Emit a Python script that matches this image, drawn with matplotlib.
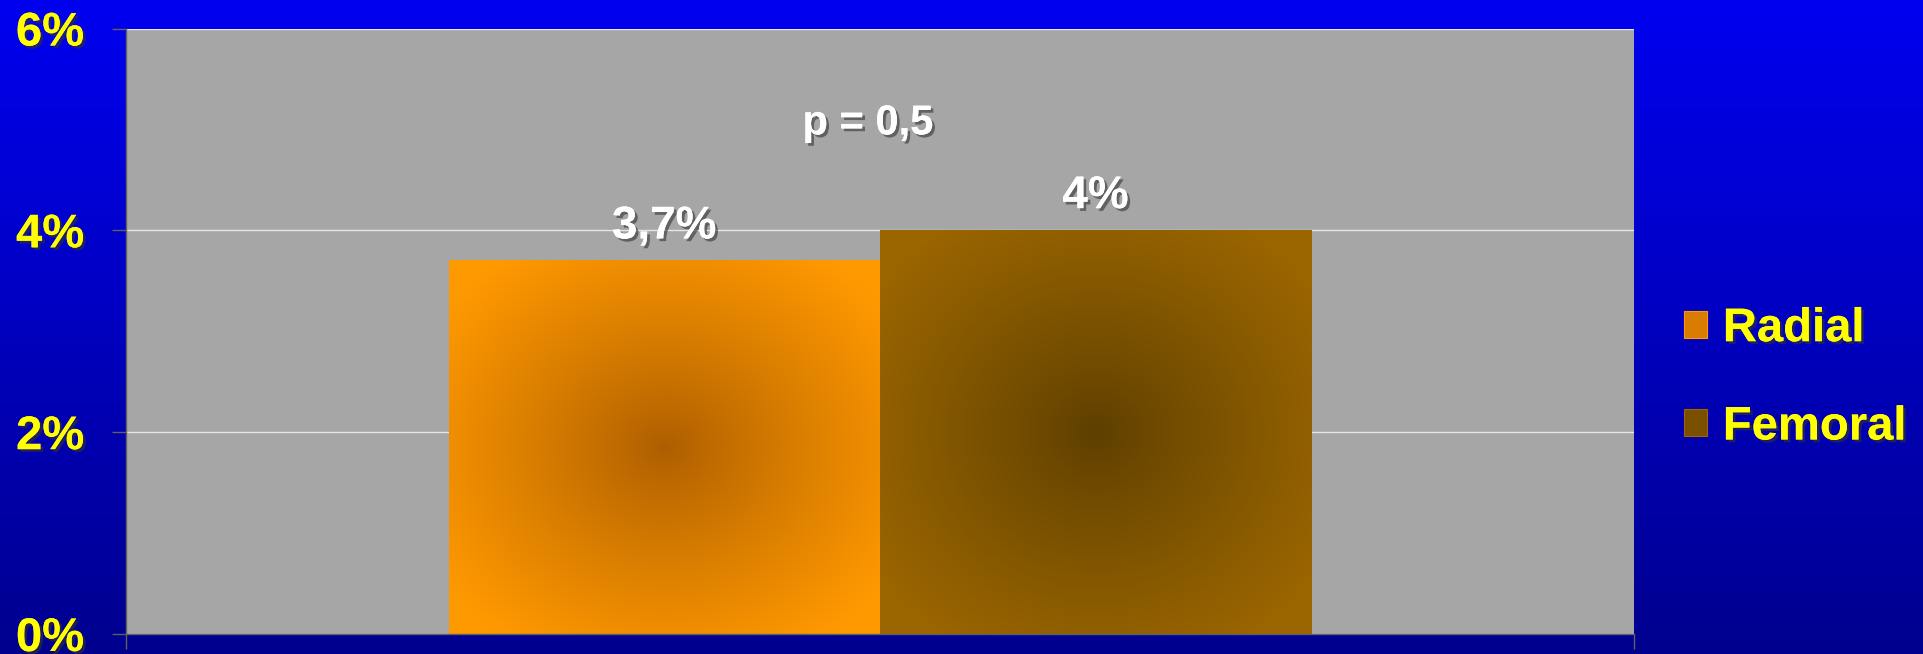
import numpy as np
import matplotlib.pyplot as plt
import matplotlib.patheffects as pe
from matplotlib.patches import Patch

# data
groups = ['Radial', 'Femoral']
rates = [3.7, 4.0]
value_labels = ['3,7%', '4%']
p_label = 'p = 0,5'
yticks = [0, 2, 4, 6]
ytick_labels = ['0%', '2%', '4%', '6%']

# edge / centre colours of each bar's radial fill
edge_colors = [(1.0, 0.60, 0.0), (0.61, 0.40, 0.0)]
center_colors = [(0.68, 0.37, 0.0), (0.37, 0.25, 0.0)]

plt.rcParams['font.family'] = ['Liberation Sans', 'DejaVu Sans']
plt.rcParams['font.weight'] = 'bold'

fig = plt.figure(figsize=(19.23, 6.54), dpi=100)

# blue gradient backdrop
bg = fig.add_axes([0, 0, 1, 1], zorder=-5)
grad = np.linspace(0, 1, 256)[:, None]
top = np.array([0.0, 0.0, 0.94])
bottom = np.array([0.0, 0.0, 0.56])
img = top + (bottom - top) * grad[..., None]
bg.imshow(np.repeat(img, 2, axis=1), aspect='auto', extent=[0, 1, 0, 1])
bg.axis('off')

ax = fig.add_axes([0.0655, 0.0306, 0.7842, 0.9258])
ax.set_facecolor('#a6a6a6')

width = 0.286
xpos = [-width / 2, width / 2]
bars = ax.bar(xpos, rates, width=width, color=edge_colors, zorder=2)


def radial_fill(c0, c1, n=200):
    yy, xx = np.mgrid[-1:1:n * 1j, -1:1:n * 1j]
    r = np.sqrt(xx ** 2 + yy ** 2)
    t = np.clip(r / 1.25, 0, 1) ** 0.9
    c0 = np.array(c0)
    c1 = np.array(c1)
    return c0 + (c1 - c0) * t[..., None]


for b, c0, c1 in zip(bars, center_colors, edge_colors):
    x, y = b.get_x(), b.get_y()
    w, h = b.get_width(), b.get_height()
    ax.imshow(radial_fill(c0, c1), extent=[x, x + w, y, y + h],
              aspect='auto', zorder=2.5)

shadow = [pe.withSimplePatchShadow(offset=(2, -2), shadow_rgbFace='#333333', alpha=0.6),
          pe.Normal()]

for b, lab in zip(bars, value_labels):
    ax.annotate(lab, (b.get_x() + b.get_width() / 2, b.get_height()),
                xytext=(0, 16), textcoords='offset points',
                ha='center', va='baseline', fontsize=33, color='white',
                fontweight='bold', path_effects=shadow, zorder=5)

ax.text(-0.008, 5.06, p_label, ha='center', va='center', fontsize=30,
        color='white', fontweight='bold', path_effects=shadow, zorder=5)

ax.set_xlim(-0.5, 0.5)
ax.set_ylim(0, 6)
ax.set_yticks(yticks)
ax.set_yticklabels(ytick_labels)
ax.set_xticks([-0.5, 0.5])
ax.set_xticklabels([])
ax.tick_params(axis='y', direction='out', length=10, width=1, color='#606060',
               pad=20, labelsize=34, labelcolor='#ffff00')
ax.tick_params(axis='x', direction='out', length=11, width=1, color='#606060')
for t in ax.get_yticklabels():
    t.set_fontweight('bold')
    t.set_path_effects(shadow)

ax.set_axisbelow(True)
ax.yaxis.grid(True, color='#e6e6e6', linewidth=1)
for s in ['top', 'right']:
    ax.spines[s].set_visible(False)
for s in ['left', 'bottom']:
    ax.spines[s].set_color('#606060')
    ax.spines[s].set_linewidth(1)

handles = [Patch(facecolor=c, edgecolor=e, linewidth=0.8)
           for c, e in zip(['#d97c00', '#7a5000'], edge_colors)]
leg = fig.legend(handles, groups, loc='center left', bbox_to_anchor=(0.8755, 0.4215),
                 frameon=False, fontsize=34, handlelength=0.5, handleheight=0.5,
                 handletextpad=0.33, labelspacing=1.15, borderpad=0, borderaxespad=0)
for t in leg.get_texts():
    t.set_color('#ffff00')
    t.set_fontweight('bold')
    t.set_path_effects(shadow)

fig.savefig('out.png', dpi=100)
